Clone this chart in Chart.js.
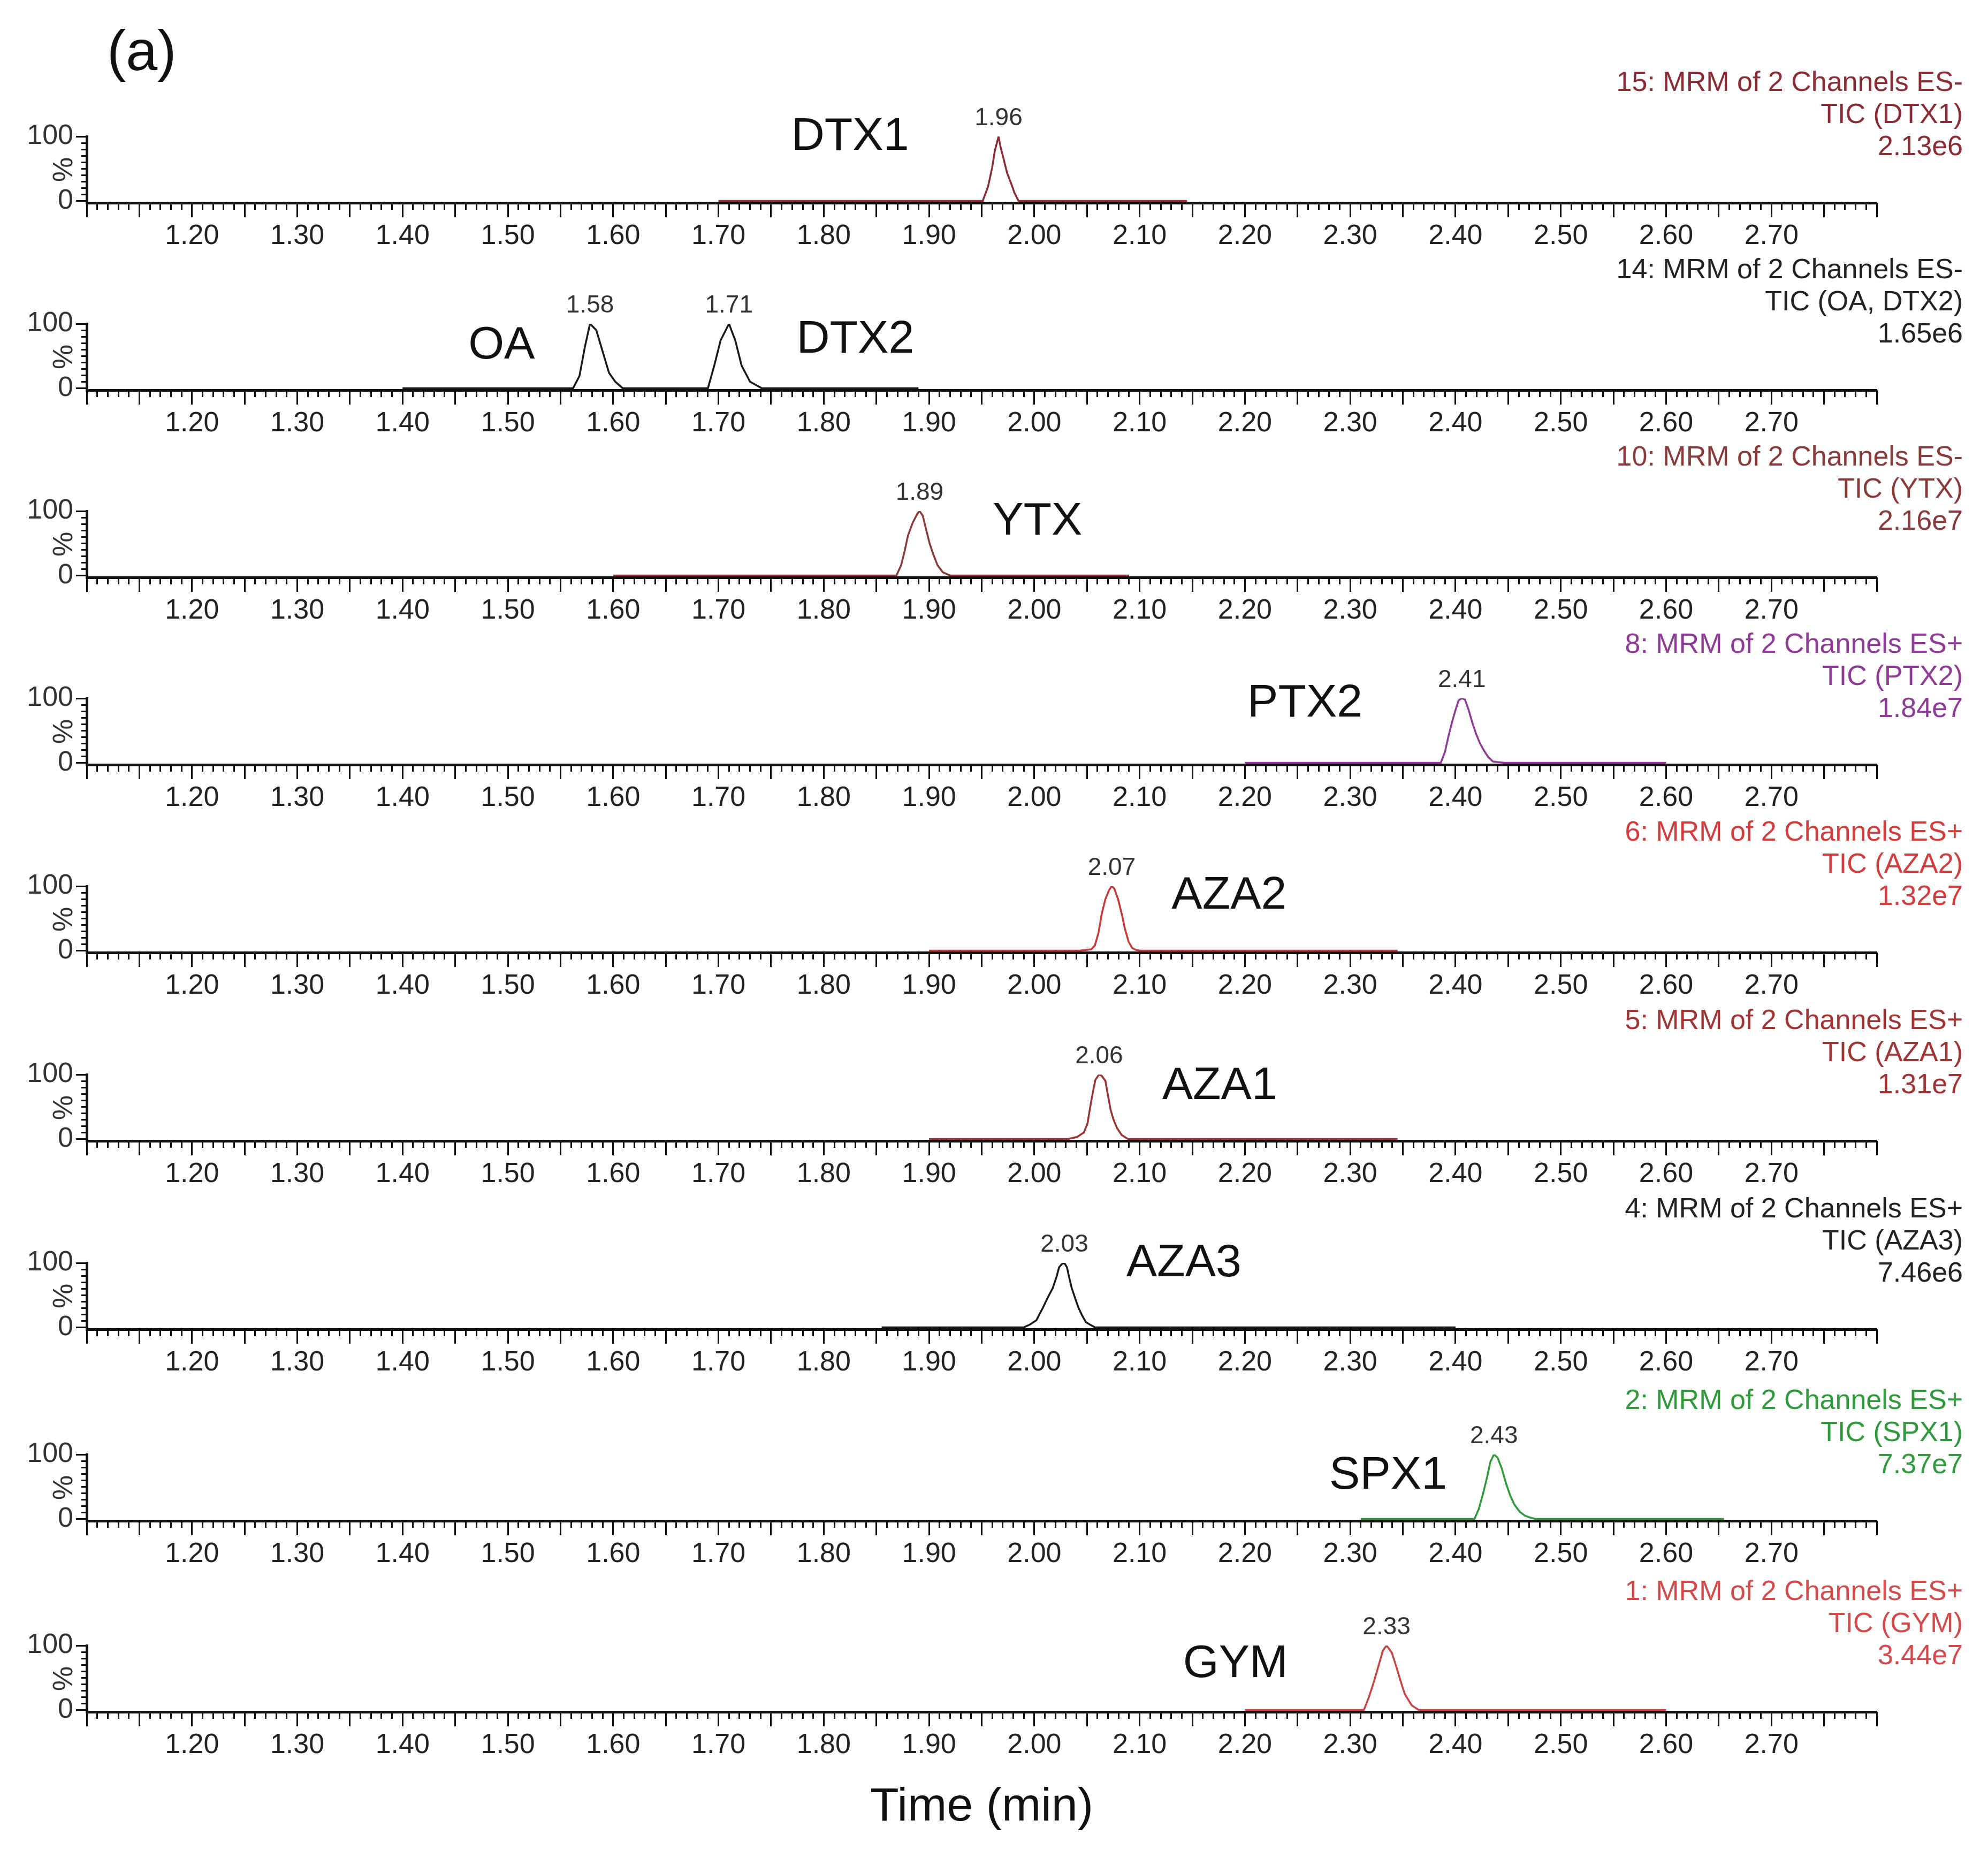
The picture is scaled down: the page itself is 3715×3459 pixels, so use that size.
<!DOCTYPE html>
<html>
<head>
<meta charset="utf-8">
<script src="https://cdn.jsdelivr.net/npm/chart.js@4.4.0/dist/chart.umd.min.js"></script>
<style>
  body { margin: 0; background: #fff; }
  #page { position: relative; width: 3715px; height: 3459px; overflow: hidden; background: #fff; }
  #page canvas { position: absolute; left: 0; }
  #tag { position: absolute; left: 200px; top: 34px; line-height: 104px;
         font: 106px "Liberation Sans", Arial, sans-serif; color: #111; }
</style>
</head>
<body>
<div id="page">
  <div id="tag">(a)</div>
</div>
<script>
// axis labels
const tickLabels = ['1.20', '1.30', '1.40', '1.50', '1.60', '1.70', '1.80', '1.90',
                    '2.00', '2.10', '2.20', '2.30', '2.40', '2.50', '2.60', '2.70'];
const yMajor = [0, 100];
const yMinor = [0, 10, 20, 30, 40, 50, 60, 70, 80, 90, 100];

// one channel per panel, top to bottom
const channelTitles = ['15: MRM of 2 Channels ES-', '14: MRM of 2 Channels ES-', '10: MRM of 2 Channels ES-',
                       '8: MRM of 2 Channels ES+', '6: MRM of 2 Channels ES+', '5: MRM of 2 Channels ES+',
                       '4: MRM of 2 Channels ES+', '2: MRM of 2 Channels ES+', '1: MRM of 2 Channels ES+'];
const ticNames = ['TIC (DTX1)', 'TIC (OA, DTX2)', 'TIC (YTX)', 'TIC (PTX2)', 'TIC (AZA2)',
                  'TIC (AZA1)', 'TIC (AZA3)', 'TIC (SPX1)', 'TIC (GYM)'];
const maxIntensity = ['2.13e6', '1.65e6', '2.16e7', '1.84e7', '1.32e7', '1.31e7', '7.46e6', '7.37e7', '3.44e7'];
const compoundNames = [['DTX1'], ['OA', 'DTX2'], ['YTX'], ['PTX2'], ['AZA2'], ['AZA1'], ['AZA3'], ['SPX1'], ['GYM']];
const peakLabels = [['1.96'], ['1.58', '1.71'], ['1.89'], ['2.41'], ['2.07'], ['2.06'], ['2.03'], ['2.43'], ['2.33']];

// traces: time (min) and relative intensity (%)
const dtx1Time = [1.70, 1.951, 1.956, 1.960, 1.9625, 1.966, 1.968, 1.971, 1.974, 1.978, 1.981, 1.985, 2.145];
const dtx1Pct  = [0, 0, 22, 52, 78, 100, 83, 64, 44, 27, 13, 0, 0];
const oaTime = [1.40, 1.562, 1.568, 1.573, 1.578, 1.584, 1.590, 1.596, 1.602, 1.609,
                1.690, 1.696, 1.702, 1.710, 1.716, 1.722, 1.730, 1.741, 1.89];
const oaPct  = [0, 0, 19, 63, 100, 90, 57, 24, 10, 0, 0, 35, 74, 100, 74, 35, 10, 0, 0];
const ytxTime = [1.60, 1.869, 1.8735, 1.877, 1.880, 1.8845, 1.889, 1.891, 1.894, 1.897, 1.9005,
                 1.904, 1.908, 1.913, 1.920, 2.09];
const ytxPct  = [0, 0, 16, 39, 62, 82, 96, 100, 93, 73, 50, 33, 16, 5, 0, 0];
const ptx2Time = [2.20, 2.386, 2.390, 2.393, 2.3965, 2.400, 2.403, 2.406, 2.409, 2.4125, 2.416,
                  2.4195, 2.423, 2.427, 2.431, 2.4355, 2.4405, 2.4465, 2.60];
const ptx2Pct  = [0, 0, 17, 39, 62, 82, 97, 100, 98, 82, 62, 45, 31, 19, 9, 2, 1, 0, 0];
const aza2Time = [1.90, 2.043, 2.054, 2.0575, 2.061, 2.064, 2.0675, 2.071, 2.0735, 2.076, 2.0795,
                  2.083, 2.086, 2.0895, 2.093, 2.0965, 2.1005, 2.345];
const aza2Pct  = [0, 0, 2, 8, 28, 57, 80, 94, 100, 96, 80, 57, 34, 14, 4, 1, 0, 0];
const aza1Time = [1.90, 2.032, 2.0405, 2.047, 2.0505, 2.053, 2.0555, 2.058, 2.0615, 2.064, 2.0675,
                  2.070, 2.0725, 2.075, 2.0785, 2.083, 2.089, 2.345];
const aza1Pct  = [0, 0, 3, 10, 24, 49, 72, 92, 100, 98, 90, 67, 45, 31, 17, 6, 0, 0];
const aza3Time = [1.855, 1.990, 1.9955, 2.002, 2.008, 2.013, 2.0175, 2.021, 2.0235, 2.026, 2.0285,
                  2.031, 2.033, 2.0355, 2.039, 2.042, 2.0455, 2.049, 2.053, 2.0575, 2.40];
const aza3Pct  = [0, 0, 4, 11, 30, 47, 61, 78, 93, 98, 100, 93, 78, 61, 44, 30, 18, 8, 4, 0, 0];
const spx1Time = [2.31, 2.418, 2.422, 2.426, 2.430, 2.433, 2.4365, 2.440, 2.444, 2.448, 2.452,
                  2.456, 2.461, 2.466, 2.471, 2.476, 2.655];
const spx1Pct  = [0, 0, 15, 38, 65, 88, 100, 95, 78, 55, 36, 22, 11, 5, 2, 0, 0];
const gymTime = [2.20, 2.313, 2.318, 2.3225, 2.327, 2.331, 2.3345, 2.3395, 2.344, 2.348, 2.352, 2.3585, 2.365, 2.60];
const gymPct  = [0, 0, 21, 44, 69, 92, 100, 89, 66, 44, 24, 7, 0, 0];

const traceTimes = [dtx1Time, oaTime, ytxTime, ptx2Time, aza2Time, aza1Time, aza3Time, spx1Time, gymTime];
const tracePcts  = [dtx1Pct, oaPct, ytxPct, ptx2Pct, aza2Pct, aza1Pct, aza3Pct, spx1Pct, gymPct];

// styles / layout
const titleColors = ['#8b2c34', '#222222', '#8b3a3a', '#8e3a96', '#d23c3c', '#a03434', '#222222', '#2f9a3a', '#d44a4a'];
const traceColors = ['#8b2c34', '#1a1a1a', '#8b3a3a', '#8e3a96', '#c83a3a', '#9a3434', '#1a1a1a', '#2f9a3a', '#c84444'];
const baseY = [377, 727, 1077, 1427, 1778, 2130, 2482, 2840, 3197];
// [x in min, y offset in px from 0%] of the big compound names
const nameAt = [[[1.825, -119]], [[1.494, -79], [1.830, -90]], [[2.003, -100]], [[2.257, -110]],
                [[2.185, -102]], [[2.176, -98]], [[2.142, -119]], [[2.336, -80]], [[2.191, -85]]];
const FAMILY = '"Liberation Sans", Arial, sans-serif';
const HEAD_RIGHT = 3668;
const HEAD_DY = [-220, -160, -100];

const panelText = {
    id: 'panelText',
    afterDraw(chart) {
        const i = chart.options.plugins.panelText.index;
        const ctx = chart.ctx;
        const xs = chart.scales.x, ys = chart.scales.y;
        const y0 = ys.getPixelForValue(0);
        ctx.save();
        ctx.textBaseline = 'middle';

        // channel header, right side
        ctx.textAlign = 'right';
        ctx.fillStyle = titleColors[i];
        ctx.font = '52px ' + FAMILY;
        [channelTitles[i], ticNames[i], maxIntensity[i]].forEach(function (t, k) {
            ctx.fillText(t, HEAD_RIGHT, y0 + HEAD_DY[k]);
        });

        // retention time over each apex
        ctx.textAlign = 'center';
        ctx.fillStyle = '#333';
        ctx.font = '46px ' + FAMILY;
        const times = traceTimes[i], pcts = tracePcts[i];
        let k = 0;
        for (let j = 0; j < pcts.length; j++) {
            if (pcts[j] === 100 && k < peakLabels[i].length) {
                ctx.fillText(peakLabels[i][k], xs.getPixelForValue(times[j]), ys.getPixelForValue(100) - 34);
                k++;
            }
        }

        // compound names
        ctx.fillStyle = '#111';
        ctx.font = '86px ' + FAMILY;
        compoundNames[i].forEach(function (name, n) {
            const at = nameAt[i][n];
            ctx.fillText(name, xs.getPixelForValue(at[0]), y0 + at[1]);
        });
        ctx.restore();
    }
};

function makeChart(i) {
    const last = i === traceTimes.length - 1;
    const h = last ? 560 : 354;
    const cv = document.createElement('canvas');
    cv.width = 3715;
    cv.height = h;
    cv.style.width = '3715px';
    cv.style.height = h + 'px';
    cv.style.top = (baseY[i] - 262) + 'px';
    document.getElementById('page').appendChild(cv);

    const times = traceTimes[i], pcts = tracePcts[i];
    const points = times.map(function (t, k) { return {x: t, y: pcts[k]}; });

    new Chart(cv, {
        type: 'line',
        data: {
            datasets: [{
                data: points,
                xAxisID: 'x',
                yAxisID: 'y',
                borderColor: traceColors[i],
                borderWidth: 3.5,
                pointRadius: 0,
                tension: 0,
                fill: false,
            }],
        },
        options: {
            responsive: false,
            animation: false,
            devicePixelRatio: 1,
            layout: { padding: { top: 140, right: 208, left: 0, bottom: 0 } },
            plugins: {
                legend: { display: false },
                tooltip: { enabled: false },
                panelText: { index: i },
            },
            scales: {
                x: {
                    type: 'linear', position: 'bottom', weight: 1,
                    min: 1.1, max: 2.8,
                    afterFit: function (s) { s.height = h - 264; },
                    border: { display: true, color: '#111', width: 5 },
                    grid: { drawOnChartArea: false, tickLength: 27, tickWidth: 3, tickColor: '#111' },
                    ticks: {
                        stepSize: 0.05, autoSkip: false, maxRotation: 0, minRotation: 0,
                        padding: 4, color: '#222', font: { family: FAMILY, size: 52 },
                        callback: function (v) {
                            const s = v.toFixed(2);
                            return tickLabels.includes(s) ? s : '';
                        },
                    },
                    title: {
                        display: last, text: 'Time (min)', color: '#111',
                        font: { family: FAMILY, size: 88 },
                        padding: { top: 0, bottom: 64 },
                    },
                },
                xm: {
                    type: 'linear', position: 'bottom', weight: 0,
                    min: 1.1, max: 2.8,
                    afterFit: function (s) { s.height = 0; },
                    border: { display: false },
                    grid: { drawOnChartArea: false, tickLength: 13, tickWidth: 3, tickColor: '#111' },
                    ticks: { stepSize: 0.01, autoSkip: false, display: false, maxTicksLimit: 500 },
                },
                y: {
                    position: 'left', weight: 1,
                    min: -3, max: 100,
                    afterFit: function (s) { s.width = 162; },
                    afterBuildTicks: function (s) { s.ticks = yMajor.map(function (v) { return {value: v}; }); },
                    border: { display: true, color: '#111', width: 5 },
                    grid: { drawOnChartArea: false, tickLength: 20, tickWidth: 3, tickColor: '#111' },
                    ticks: { padding: 5, color: '#333', font: { family: FAMILY, size: 52 } },
                    title: {
                        display: true, text: '%', color: '#333',
                        font: { family: FAMILY, size: 52 },
                        padding: { top: 89, bottom: 0 },
                    },
                },
                ym: {
                    position: 'left', weight: 0,
                    min: -3, max: 100,
                    afterFit: function (s) { s.width = 0; },
                    afterBuildTicks: function (s) { s.ticks = yMinor.map(function (v) { return {value: v}; }); },
                    border: { display: false },
                    grid: { drawOnChartArea: false, tickLength: 10, tickWidth: 3, tickColor: '#111' },
                    ticks: { display: false },
                },
            },
        },
        plugins: [panelText],
    });
}

for (let i = 0; i < traceTimes.length; i++) {
    makeChart(i);
}
</script>
</body>
</html>
